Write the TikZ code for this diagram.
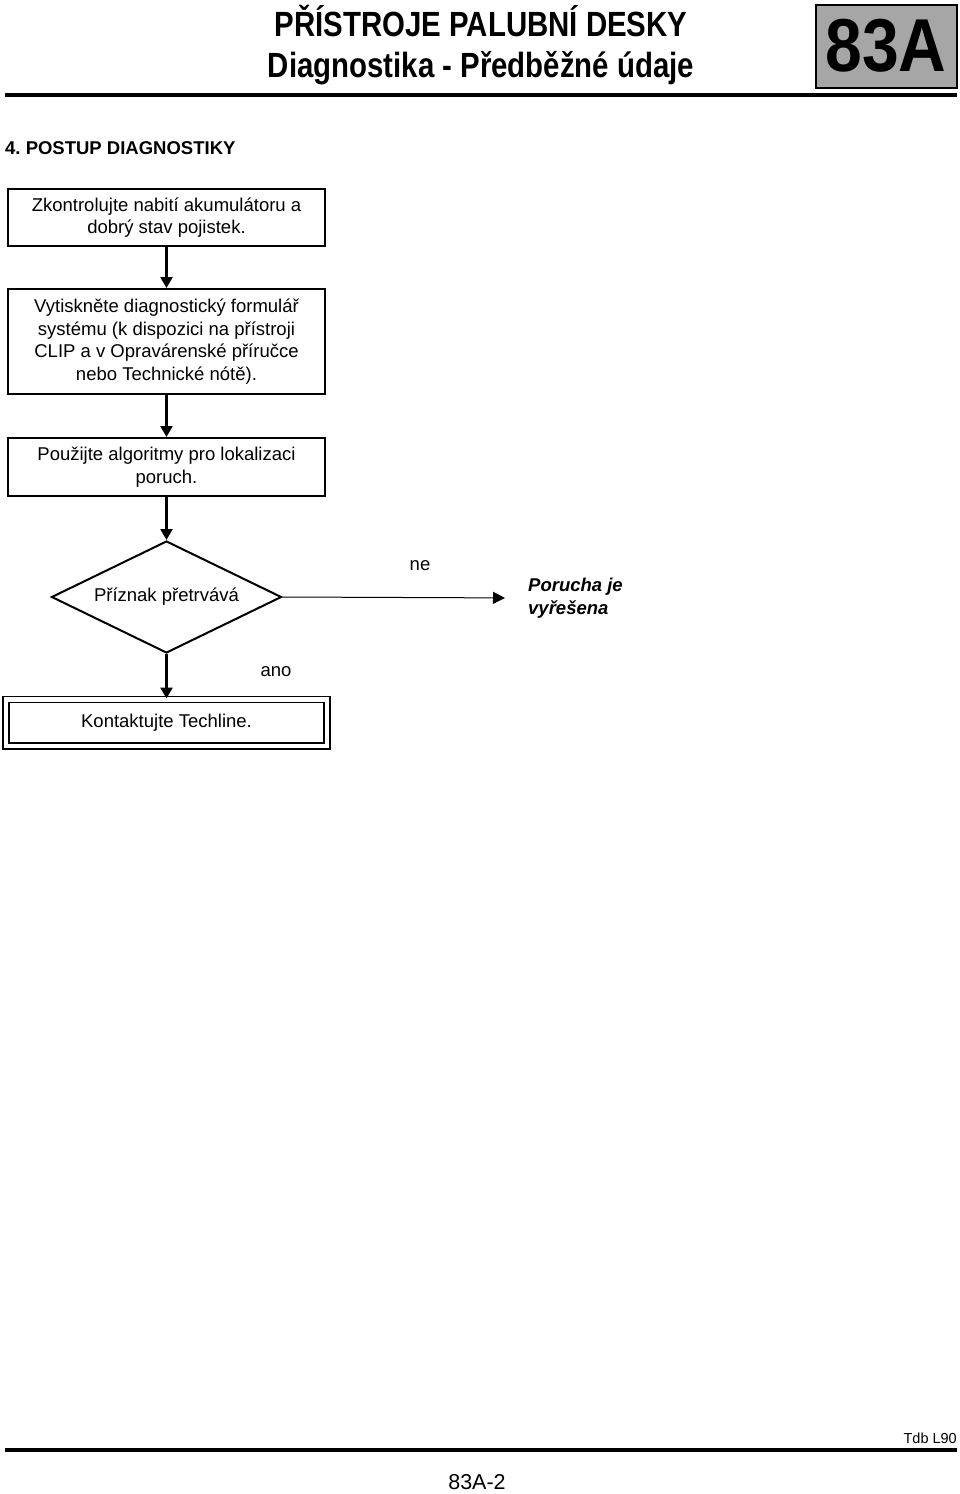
\documentclass[tikz,border=0pt]{standalone}
\usepackage{fontspec}
\setmainfont{Liberation Sans}
\newfontfamily\narrowfont[FakeStretch=0.84]{Liberation Sans}
\newfontfamily\bignarrowfont[FakeStretch=0.88]{Liberation Sans}
\usetikzlibrary{arrows.meta,shapes.geometric}
\frenchspacing

\tikzset{
  stepbox/.style={draw,line width=2pt,minimum width=317pt,inner sep=0pt,
    align=center,font=\fontsize{18.5}{22.5}\selectfont},
  flow/.style={line width=2.5pt,-{Triangle[width=12pt,length=11pt]}},
  plain/.style={inner sep=0pt,font=\fontsize{18.5}{22.5}\selectfont},
}

\begin{document}
\begin{tikzpicture}[x=1pt,y=-1pt]
\useasboundingbox (0,0) rectangle (960,1494);

% header
\node (title) [anchor=base,inner sep=0pt] at (481,36) {\narrowfont\bfseries\fontsize{35}{36}\selectfont PŘÍSTROJE PALUBNÍ DESKY};
\node (subtitle) [anchor=base,inner sep=0pt] at (481,77) {\narrowfont\bfseries\fontsize{35}{36}\selectfont Diagnostika - Předběžné údaje};
\node (tab) [draw,line width=2pt,fill=black!35,minimum width=141pt,minimum height=83pt,inner sep=0pt]
  at (886,46) {\bignarrowfont\bfseries\fontsize{75}{75}\selectfont 83A};
\coordinate (topl) at (5,95);
\coordinate (topr) at (957,95);
\draw [line width=4pt] (topl) -- (topr);

\node (section) [anchor=west,inner sep=0pt] at (5,148) {\bfseries\fontsize{18.5}{20}\selectfont 4. POSTUP DIAGNOSTIKY};

% flow chart
\node (battery) [stepbox,minimum height=57pt] at (166.5,217.5)
  {Zkontrolujte nabití akumulátoru a\\dobrý stav pojistek.};
\node (form) [stepbox,minimum height=105pt] at (166.5,341.5)
  {Vytiskněte diagnostický formulář\\systému (k dispozici na přístroji\\CLIP a v Opravárenské příručce\\nebo Technické nótě).};
\node (algo) [stepbox,minimum height=58pt] at (166.5,467)
  {Použijte algoritmy pro lokalizaci\\poruch.};
\node (persist) [draw,diamond,aspect=2,line width=2pt,minimum width=230pt,minimum height=112pt,
  inner sep=0pt,font=\fontsize{18.5}{22.5}\selectfont] at (166.5,597) {Příznak přetrvává};
\node (solved) [plain,anchor=west,align=left,font=\bfseries\itshape\fontsize{18.5}{22.5}\selectfont]
  at (528,598) {Porucha je\\vyřešena};
\node (techline) [stepbox,line width=1.5pt,double,double distance=4.5pt,minimum width=321pt,
  minimum height=46.5pt] at (166.5,722.5) {Kontaktujte Techline.};

\node (no)  [plain] at (420,566) {ne};
\node (yes) [plain] at (276,672) {ano};

\draw [flow] (battery) to (form);
\draw [flow] (form) to (algo);
\draw [flow] (algo) to (persist);
\draw [flow] (persist) to (techline);
\draw [line width=1pt,-{Triangle[width=12pt,length=12pt]},shorten >=23pt] (persist.east) to (solved.west);

% footer
\coordinate (botl) at (5,1450);
\coordinate (botr) at (957,1450);
\draw [line width=4pt] (botl) -- (botr);
\node (ref)  [anchor=east,inner sep=0pt,font=\fontsize{14.5}{16}\selectfont] at (957,1438) {Tdb L90};
\node (page) [inner sep=0pt,font=\fontsize{21.5}{24}\selectfont] at (477,1482) {83A-2};
\end{tikzpicture}
\end{document}
